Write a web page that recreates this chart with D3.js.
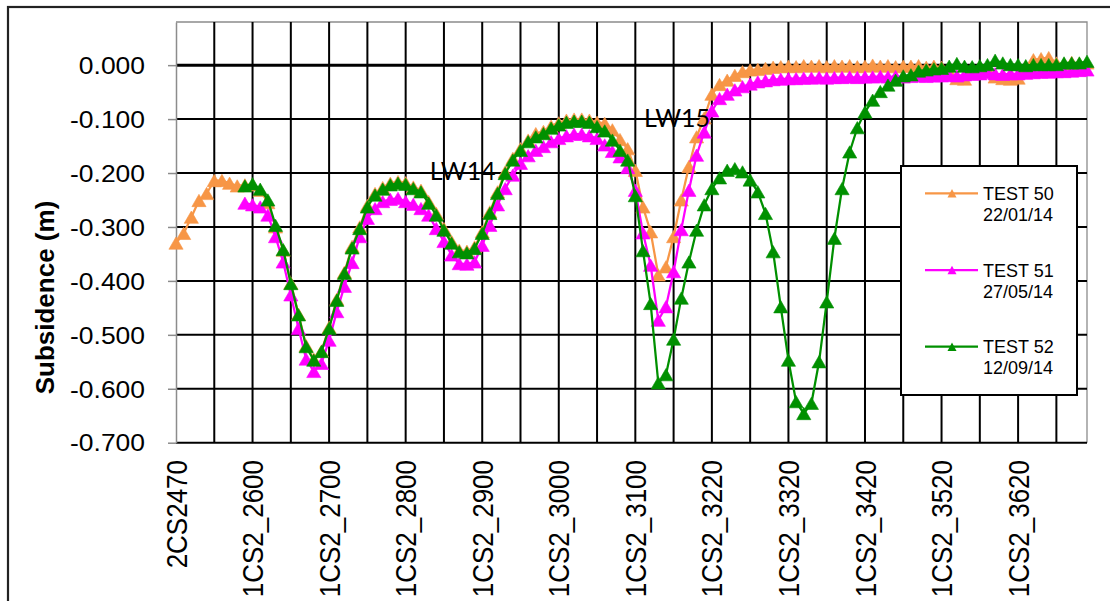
<!DOCTYPE html>
<html>
<head>
<meta charset="utf-8">
<script src="https://cdn.jsdelivr.net/npm/d3@7"></script>
<style>
  html, body { margin: 0; padding: 0; background: #ffffff; }
  svg { display: block; }
</style>
</head>
<body>
<svg id="chart" width="1110" height="601"></svg>
<script>
// Survey stations labelled on the category axis (every tenth peg)
const tickLabels = ["2CS2470", "1CS2_2600", "1CS2_2700", "1CS2_2800", "1CS2_2900", "1CS2_3000",
                    "1CS2_3100", "1CS2_3220", "1CS2_3320", "1CS2_3420", "1CS2_3520", "1CS2_3620"];

// Subsidence axis ticks (m)
const yTicks = [0, -0.1, -0.2, -0.3, -0.4, -0.5, -0.6, -0.7];

// Survey epochs
const seriesNames = ["TEST 50", "TEST 51", "TEST 52"];
const seriesDates = ["22/01/14", "27/05/14", "12/09/14"];

// Subsidence (m) per peg
const test50 = [
  -0.330, -0.312, -0.282, -0.251, -0.238, -0.214, -0.214, -0.219, -0.224, -0.222,
  -0.222, -0.232, -0.255, -0.300, -0.343, -0.404, -0.462, -0.520, -0.545, -0.530,
  -0.486, -0.434, -0.384, -0.336, -0.300, -0.260, -0.238, -0.227, -0.219, -0.216,
  -0.218, -0.226, -0.232, -0.253, -0.275, -0.303, -0.327, -0.343, -0.345, -0.337,
  -0.309, -0.272, -0.235, -0.198, -0.173, -0.155, -0.139, -0.127, -0.123, -0.113,
  -0.107, -0.102, -0.100, -0.100, -0.102, -0.106, -0.108, -0.120, -0.138, -0.155,
  -0.195, -0.263, -0.309, -0.389, -0.374, -0.318, -0.250, -0.188, -0.133, -0.098,
  -0.054, -0.036, -0.028, -0.019, -0.012, -0.009, -0.008, -0.006, -0.004, -0.003,
  -0.002, -0.003, -0.001, -0.002, -0.001, -0.003, -0.001, -0.002, -0.001, -0.003,
  -0.002,  0.000, -0.002, -0.001, -0.003, -0.002, -0.002, -0.001, -0.004, -0.002,
  -0.004, -0.012, -0.025, -0.026, -0.008, -0.003, -0.008, -0.022, -0.025, -0.026,
  -0.024, -0.004,  0.010,  0.012,  0.014,  0.004,  0.002,  0.005,  0.003,  0.004
];
const test51 = [
   null,   null,   null,   null,   null,   null,   null,   null,   null, -0.256,
  -0.259, -0.263, -0.278, -0.318, -0.365, -0.426, -0.488, -0.545, -0.568, -0.553,
  -0.510, -0.457, -0.410, -0.366, -0.318, -0.284, -0.266, -0.253, -0.249, -0.247,
  -0.253, -0.258, -0.266, -0.278, -0.303, -0.327, -0.352, -0.368, -0.369, -0.365,
  -0.334, -0.297, -0.259, -0.229, -0.204, -0.182, -0.168, -0.158, -0.151, -0.142,
  -0.136, -0.131, -0.128, -0.128, -0.131, -0.136, -0.148, -0.160, -0.170, -0.190,
  -0.232, -0.311, -0.371, -0.473, -0.448, -0.383, -0.305, -0.232, -0.167, -0.124,
  -0.085, -0.062, -0.054, -0.046, -0.040, -0.035, -0.031, -0.029, -0.027, -0.026,
  -0.025, -0.025, -0.024, -0.024, -0.023, -0.024, -0.023, -0.023, -0.022, -0.023,
  -0.022, -0.022, -0.021, -0.022, -0.021, -0.022, -0.021, -0.020, -0.021, -0.020,
  -0.020, -0.019, -0.020, -0.018, -0.017, -0.016, -0.014, -0.016, -0.017, -0.016,
  -0.016, -0.015, -0.014, -0.013, -0.013, -0.012, -0.012, -0.011, -0.010, -0.009
];
const test52 = [
   null,   null,   null,   null,   null,   null,   null,   null,   null, -0.224,
  -0.220, -0.230, -0.250, -0.297, -0.342, -0.405, -0.463, -0.522, -0.547, -0.531,
  -0.488, -0.436, -0.386, -0.339, -0.303, -0.263, -0.241, -0.230, -0.222, -0.219,
  -0.221, -0.229, -0.235, -0.256, -0.278, -0.306, -0.330, -0.346, -0.348, -0.340,
  -0.312, -0.275, -0.238, -0.201, -0.176, -0.158, -0.142, -0.133, -0.127, -0.117,
  -0.111, -0.106, -0.104, -0.104, -0.106, -0.114, -0.122, -0.139, -0.158, -0.176,
  -0.242, -0.344, -0.442, -0.589, -0.574, -0.508, -0.432, -0.365, -0.306, -0.259,
  -0.229, -0.209, -0.195, -0.192, -0.198, -0.213, -0.235, -0.275, -0.346, -0.448,
  -0.547, -0.624, -0.646, -0.627, -0.550, -0.439, -0.321, -0.229, -0.161, -0.116,
  -0.087, -0.065, -0.049, -0.037, -0.028, -0.020, -0.018, -0.011, -0.009, -0.007,
  -0.006, -0.002,  0.003, -0.002, -0.003, -0.001,  0.001,  0.009,  0.004,  0.001,
   0.001, -0.001,  0.001,  0.001,  0.001,  0.001,  0.004,  0.004,  0.004,  0.007
];

// Longwall panel annotations, anchored at a peg and a subsidence level
const panelNotes = [
  { text: "LW14", station: 33, value: -0.213 },
  { text: "LW15", station: 61, value: -0.115 }
];

// ---- peg list: ten pegs per labelled interval ----
const stations = [];
tickLabels.forEach((lab, k) => {
  const prefix = lab.replace(/\d+$/, "");
  const chain = +lab.match(/\d+$/)[0];
  const next = tickLabels[k + 1] ? +tickLabels[k + 1].match(/\d+$/)[0] : chain + 100;
  const step = (next - chain) / 10;
  for (let j = 0; j < 10; j++) {
    stations.push(j === 0 ? lab : prefix + Math.round(chain + step * j));
  }
});

const colors = ["#F79646", "#FF00FF", "#009000"];
const series = [test50, test51, test52];

const svg = d3.select("#chart");
const plot = { left: 176, right: 1087, top: 22, bottom: 442.7 };

const x = d3.scalePoint().domain(stations).range([plot.left, plot.right]);
const y = d3.scaleLinear().domain([-0.7, 0.08]).range([plot.bottom, plot.top]);

const fmtLocale = d3.formatLocale({ decimal: ".", thousands: ",", grouping: [3], currency: ["", ""], minus: "-" });
const fmt = fmtLocale.format(".3f");

// chart frame
svg.append("rect")
  .attr("x", 8).attr("y", 7).attr("width", 1200).attr("height", 700)
  .attr("fill", "none").attr("stroke", "#222").attr("stroke-width", 2.2);

// plot frame (top and right edges)
svg.append("path")
  .attr("d", `M${plot.left},${plot.top}H${plot.right}V${plot.bottom}`)
  .attr("fill", "none").attr("stroke", "#8c8c8c").attr("stroke-width", 1.3);

// vertical gridlines every fifth peg
svg.append("g").selectAll("line")
  .data(stations.filter((s, i) => i > 0 && i % 5 === 0))
  .join("line")
  .attr("x1", d => x(d)).attr("x2", d => x(d))
  .attr("y1", plot.top).attr("y2", plot.bottom)
  .attr("stroke", "#000").attr("stroke-width", 2);

// horizontal gridlines
svg.append("g").selectAll("line")
  .data(yTicks)
  .join("line")
  .attr("x1", plot.left).attr("x2", plot.right)
  .attr("y1", d => y(d)).attr("y2", d => y(d))
  .attr("stroke", "#000").attr("stroke-width", d => d === 0 ? 3 : 2);

// value axis
const yAxis = svg.append("g")
  .attr("transform", `translate(${plot.left},0)`)
  .call(d3.axisLeft(y).tickValues(yTicks).tickFormat(fmt).tickSize(8).tickSizeOuter(0));
yAxis.select(".domain").attr("stroke", "#8c8c8c").attr("stroke-width", 1.5);
yAxis.selectAll(".tick line").attr("stroke", "#8c8c8c").attr("stroke-width", 1.5);
yAxis.selectAll(".tick text")
  .attr("x", 0).attr("dy", "0.36em")
  .attr("transform", "translate(-31,0) scale(1.15,1)")
  .attr("text-anchor", "end")
  .attr("fill", "#000")
  .style("font-family", "'Liberation Sans', Arial, sans-serif")
  .style("font-size", "23px");

// category axis labels
const xAxis = svg.append("g")
  .attr("transform", `translate(0,${plot.bottom})`)
  .call(d3.axisBottom(x).tickValues(tickLabels).tickSize(0));
xAxis.select(".domain").remove();
xAxis.selectAll(".tick text")
  .attr("x", 0).attr("y", 0).attr("dy", "0.35em")
  .attr("transform", "translate(0,17.3) scale(1.11,1) rotate(-90)")
  .attr("text-anchor", "end")
  .attr("fill", "#000")
  .style("font-family", "'Liberation Sans', Arial, sans-serif")
  .style("font-size", "26px");

// axis title
svg.append("text")
  .attr("transform", `translate(53.5,${(196 + 399) / 2}) rotate(-90)`)
  .attr("text-anchor", "middle")
  .style("font-family", "'Liberation Sans', Arial, sans-serif")
  .style("font-size", "26px").style("font-weight", "bold")
  .text("Subsidence (m)");

// series
const tri = "M0,-6.2L7.1,6.1L-7.1,6.1Z";
const line = d3.line()
  .defined(d => d.v !== null)
  .x(d => x(d.s)).y(d => y(d.v));

series.forEach((vals, k) => {
  const pts = vals.map((v, i) => ({ s: stations[i], v }));
  const g = svg.append("g");
  g.append("path")
    .attr("d", line(pts))
    .attr("fill", "none").attr("stroke", colors[k]).attr("stroke-width", 2.25)
    .attr("stroke-linejoin", "round");
  g.selectAll("path.m")
    .data(pts.filter(d => d.v !== null))
    .join("path").attr("class", "m")
    .attr("d", tri)
    .attr("transform", d => `translate(${x(d.s)},${y(d.v)})`)
    .attr("fill", colors[k]).attr("stroke", colors[k]).attr("stroke-width", 0.6);
});

// panel annotations
svg.append("g").selectAll("text")
  .data(panelNotes)
  .join("text")
  .attr("x", d => x(stations[d.station]) + 1)
  .attr("y", d => y(d.value))
  .style("font-family", "Lato, 'Open Sans', sans-serif")
  .style("font-size", "25px")
  .attr("fill", "#000")
  .text(d => d.text);

// legend
const legend = svg.append("g");
legend.append("rect")
  .attr("x", 901).attr("y", 166).attr("width", 176).attr("height", 229)
  .attr("fill", "#fff").attr("stroke", "#000").attr("stroke-width", 2);
seriesNames.forEach((name, k) => {
  const ly = 193.3 + k * 76.7;
  const e = legend.append("g");
  e.append("line")
    .attr("x1", 925).attr("x2", 978).attr("y1", ly).attr("y2", ly)
    .attr("stroke", colors[k]).attr("stroke-width", 2.25);
  e.append("path")
    .attr("d", "M0,-4.2L4.5,4.2L-4.5,4.2Z")
    .attr("transform", `translate(952,${ly})`)
    .attr("fill", colors[k]);
  e.append("text")
    .attr("x", 983).attr("y", ly + 6.7)
    .style("font-family", "'Liberation Sans', Arial, sans-serif")
    .style("font-size", "18px")
    .text(name);
  e.append("text")
    .attr("x", 983).attr("y", ly + 27.6)
    .style("font-family", "'Liberation Sans', Arial, sans-serif")
    .style("font-size", "18px")
    .text(seriesDates[k]);
});
</script>
</body>
</html>
